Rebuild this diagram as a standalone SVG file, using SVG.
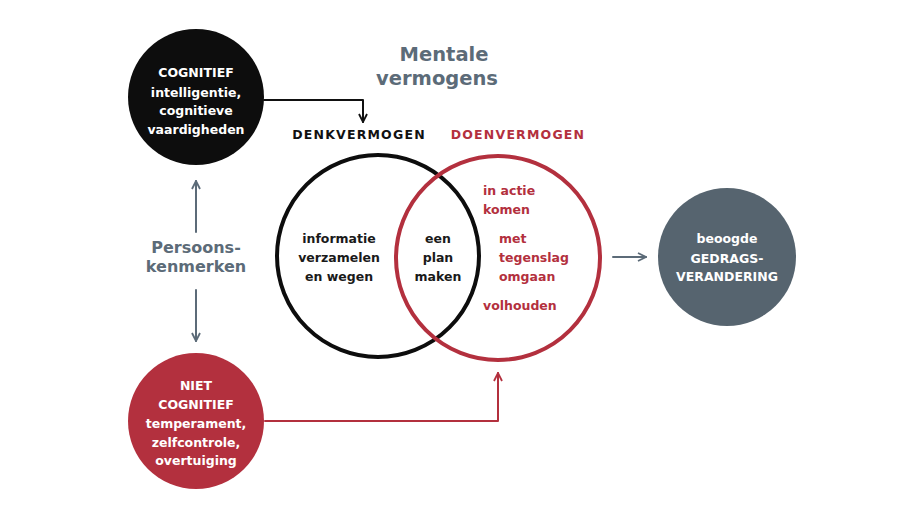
<svg xmlns="http://www.w3.org/2000/svg" width="920" height="518" viewBox="0 0 920 518">
<defs>
<style>
text{font-family:"DejaVu Sans","Liberation Sans",sans-serif;font-weight:bold;text-anchor:middle}
.w{fill:#ffffff;font-size:12.5px}
.k{fill:#1a1a1a;font-size:12.5px}
.r{fill:#b3303e;font-size:12.5px}
.g{fill:#5c6b78}
.ln{fill:none;stroke-width:2;stroke-linecap:round;stroke-linejoin:round}
</style>
<marker id="ab" viewBox="0 0 10 10" refX="9" refY="5" markerWidth="10" markerHeight="10" markerUnits="userSpaceOnUse" orient="auto"><path d="M1,1 L9,5 L1,9" fill="none" stroke="#111" stroke-width="1.8"/></marker>
<marker id="ag" viewBox="0 0 10 10" refX="9" refY="5" markerWidth="10" markerHeight="10" markerUnits="userSpaceOnUse" orient="auto"><path d="M1,1 L9,5 L1,9" fill="none" stroke="#5c6b78" stroke-width="1.8"/></marker>
<marker id="ar" viewBox="0 0 10 10" refX="9" refY="5" markerWidth="10" markerHeight="10" markerUnits="userSpaceOnUse" orient="auto"><path d="M1,1 L9,5 L1,9" fill="none" stroke="#b3303e" stroke-width="1.8"/></marker>
</defs>
<rect width="920" height="518" fill="#ffffff"/>
<g id="title">
<text class="g" x="444" y="61" style="font-size:19.5px">Mentale</text>
<text class="g" x="437" y="85" style="font-size:19.5px">vermogens</text>
</g>
<g id="connectors">
<path class="ln" d="M264,100 H363 V122" stroke="#111" marker-end="url(#ab)"/>
<path class="ln" d="M196,232 V181" stroke="#5c6b78" marker-end="url(#ag)"/>
<path class="ln" d="M196,290 V341" stroke="#5c6b78" marker-end="url(#ag)"/>
<path class="ln" d="M265,421 H498 V373" stroke="#b3303e" marker-end="url(#ar)"/>
<path class="ln" d="M613,257 H646" stroke="#5c6b78" marker-end="url(#ag)"/>
</g>
<g id="cognitief">
<circle cx="196" cy="97" r="68" fill="#0d0d0d"/>
<text class="w" x="196" y="77">COGNITIEF</text>
<text class="w" x="196" y="97">intelligentie,</text>
<text class="w" x="196" y="115">cognitieve</text>
<text class="w" x="196" y="134">vaardigheden</text>
</g>
<g id="persoonskenmerken">
<text class="g" x="196" y="253" style="font-size:16px">Persoons-</text>
<text class="g" x="196" y="272" style="font-size:16px">kenmerken</text>
</g>
<g id="niet-cognitief">
<circle cx="196" cy="421" r="68" fill="#b3303e"/>
<text class="w" x="196" y="390">NIET</text>
<text class="w" x="196" y="409">COGNITIEF</text>
<text class="w" x="196" y="428">temperament,</text>
<text class="w" x="196" y="447">zelfcontrole,</text>
<text class="w" x="196" y="465">overtuiging</text>
</g>
<g id="denkvermogen">
<circle cx="378" cy="256" r="101" fill="none" stroke="#0d0d0d" stroke-width="4"/>
<text x="359" y="139" style="font-size:12.5px;letter-spacing:1.2px;fill:#111">DENKVERMOGEN</text>
<text class="k" x="339" y="243">informatie</text>
<text class="k" x="339" y="262">verzamelen</text>
<text class="k" x="339" y="281">en wegen</text>
</g>
<g id="doenvermogen">
<circle cx="498" cy="258" r="102" fill="none" stroke="#b3303e" stroke-width="4"/>
<text x="518" y="139" style="font-size:12.5px;letter-spacing:1.2px;fill:#b3303e">DOENVERMOGEN</text>
<text class="r" x="483" y="195" style="text-anchor:start">in actie</text>
<text class="r" x="483" y="214" style="text-anchor:start">komen</text>
<text class="r" x="499" y="243" style="text-anchor:start">met</text>
<text class="r" x="499" y="262" style="text-anchor:start">tegenslag</text>
<text class="r" x="499" y="281" style="text-anchor:start">omgaan</text>
<text class="r" x="483" y="310" style="text-anchor:start">volhouden</text>
</g>
<g id="plan">
<text class="k" x="438" y="243">een</text>
<text class="k" x="438" y="262">plan</text>
<text class="k" x="438" y="281">maken</text>
</g>
<g id="gedragsverandering">
<circle cx="727" cy="257" r="69" fill="#56646f"/>
<text class="w" x="727" y="243">beoogde</text>
<text class="w" x="727" y="263">GEDRAGS-</text>
<text class="w" x="727" y="281">VERANDERING</text>
</g>
</svg>
